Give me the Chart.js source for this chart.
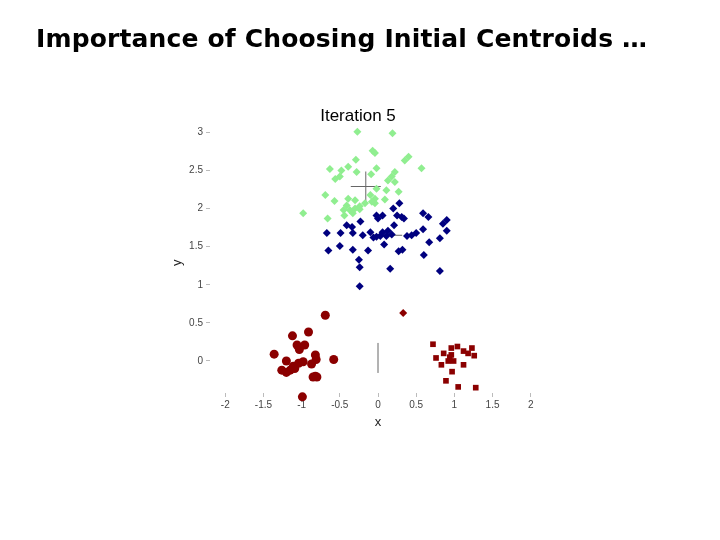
<!DOCTYPE html>
<html>
<head>
<meta charset="utf-8">
<script src="https://cdn.jsdelivr.net/npm/chart.js@4/dist/chart.umd.min.js"></script>
<style>
  body { margin: 0; background: #fff; }
  #wrap { position: relative; width: 720px; height: 540px; }
  #slideTitle {
    position: absolute; left: 36px; top: 24px;
    font-family: "DejaVu Sans", Verdana, sans-serif; font-weight: bold; font-size: 25px;
    letter-spacing: 0.15px;
    color: #000; white-space: nowrap;
  }
  canvas { position: absolute; left: 0; top: 0; }
</style>
</head>
<body>
<div id="wrap">
  <canvas id="chart" width="720" height="540"></canvas>
  <div id="slideTitle">Importance of Choosing Initial Centroids …</div>
</div>
<script>
// ------- DATA -------
const greenX = [-0.27, 0.19, -0.07, -0.04, 0.40, 0.35, 0.57, -0.29, -0.39, -0.48, -0.28, -0.56, -0.50, -0.02, -0.09, 0.22, 0.18, 0.13, 0.22, 0.11, -0.02, 0.27, -0.69, -0.57, -0.39, -0.30, -0.10, -0.04, 0.09, -0.04, -0.41, -0.37, -0.30, -0.24, -0.17, -0.44, -0.98, -0.66, -0.33, -0.45, -0.08, -0.24, -0.63];
const greenY = [3.01, 2.99, 2.76, 2.73, 2.68, 2.63, 2.53, 2.64, 2.55, 2.50, 2.48, 2.39, 2.42, 2.53, 2.45, 2.48, 2.42, 2.37, 2.35, 2.24, 2.26, 2.22, 2.18, 2.10, 2.13, 2.11, 2.18, 2.13, 2.12, 2.07, 2.04, 1.98, 2.00, 2.03, 2.07, 1.91, 1.94, 1.87, 1.94, 1.98, 2.09, 1.99, 2.52];

const blueX = [0.28, 0.20, 0.25, 0.34, -0.02, 0.06, 0.00, 0.59, 0.66, 0.90, 0.85, -0.23, -0.41, -0.34, 0.21, 0.59, 0.90, -0.67, -0.49, -0.33, -0.20, -0.10, -0.06, -0.02, 0.06, 0.13, 0.11, 0.18, 0.38, 0.44, 0.50, 0.67, 0.81, -0.65, -0.50, -0.33, -0.13, 0.08, 0.27, 0.32, 0.60, -0.25, -0.24, 0.16, 0.81, -0.24, 0.31, 0.03];
const blueY = [2.07, 2.00, 1.91, 1.87, 1.91, 1.91, 1.87, 1.94, 1.89, 1.85, 1.80, 1.83, 1.78, 1.76, 1.78, 1.73, 1.71, 1.68, 1.68, 1.68, 1.65, 1.69, 1.62, 1.63, 1.69, 1.71, 1.64, 1.66, 1.64, 1.65, 1.68, 1.56, 1.61, 1.45, 1.51, 1.46, 1.45, 1.53, 1.44, 1.46, 1.39, 1.33, 1.23, 1.21, 1.18, 0.98, 1.89, 1.64];

const redCircleX = [-0.69, -1.12, -0.91, -1.06, -1.03, -0.96, -1.36, -0.82, -0.81, -0.58, -1.20, -1.11, -1.04, -0.98, -1.26, -1.20, -1.15, -1.09, -0.87, -0.82, -0.80, -0.85, -0.99];
const redCircleY = [0.60, 0.33, 0.38, 0.21, 0.15, 0.21, 0.09, 0.08, 0.02, 0.02, 0.00, -0.07, -0.03, -0.01, -0.12, -0.15, -0.12, -0.10, -0.04, -0.20, -0.21, -0.21, -0.47];

const redDiamondX = [0.33];
const redDiamondY = [0.63];

const redSquareX = [0.72, 0.86, 0.96, 1.04, 1.12, 1.23, 1.26, 1.18, 0.76, 0.94, 0.99, 0.92, 0.83, 1.12, 0.97, 0.89, 1.05, 1.28, 0.96];
const redSquareY = [0.22, 0.10, 0.17, 0.19, 0.13, 0.17, 0.07, 0.10, 0.04, 0.05, 0.00, 0.00, -0.05, -0.05, -0.14, -0.26, -0.34, -0.35, 0.08];

// centroid markers
const centroidX = [-0.16, 0.12, 0.00];
const centroidY = [2.29, 1.65, 0.04];

const xTicks = [-2, -1.5, -1, -0.5, 0, 0.5, 1, 1.5, 2];
const xTickLabels = ["-2", "-1.5", "-1", "-0.5", "0", "0.5", "1", "1.5", "2"];
const yTicks = [0, 0.5, 1, 1.5, 2, 2.5, 3];
const yTickLabels = ["0", "0.5", "1", "1.5", "2", "2.5", "3"];

// ------- BUILD DATASETS -------
function pts(xs, ys) {
    return xs.map((x, i) => ({ x: x, y: ys[i] }));
}

function markerSet(xs, ys, color, style, r) {
    return {
        data: pts(xs, ys),
        pointStyle: style,
        pointRadius: r,
        pointBackgroundColor: color,
        pointBorderColor: color,
        pointBorderWidth: 0,
        clip: false
    };
}

const centroidSet = {
    data: pts(centroidX, centroidY),
    pointStyle: ["cross", "line", "line"],
    rotation: [0, 0, 90],
    pointRadius: 15,
    pointBorderColor: "#666",
    pointBorderWidth: 1,
    clip: false
};

const tickFont = { family: "Liberation Sans, Arial, sans-serif", size: 10 };

new Chart(document.getElementById("chart").getContext("2d"), {
    type: "scatter",
    data: {
        datasets: [
            markerSet(greenX, greenY, "#90ee90", "rectRot", 4),
            markerSet(blueX, blueY, "#00007f", "rectRot", 4),
            markerSet(redCircleX, redCircleY, "#8b0000", "circle", 4.5),
            markerSet(redDiamondX, redDiamondY, "#8b0000", "rectRot", 4),
            markerSet(redSquareX, redSquareY, "#8b0000", "rect", 4),
            centroidSet
        ]
    },
    options: {
        responsive: false,
        animation: false,
        layout: { padding: { left: 170, right: 174, top: 106, bottom: 110 } },
        plugins: {
            legend: { display: false },
            tooltip: { enabled: false },
            title: {
                display: true,
                text: "Iteration 5",
                color: "#000",
                font: { family: "Liberation Sans, Arial, sans-serif", size: 17, weight: "normal" },
                padding: { top: 0, bottom: 6 }
            }
        },
        scales: {
            x: {
                type: "linear",
                min: -2.2,
                max: 2.2,
                afterBuildTicks: s => { s.ticks = xTicks.map(v => ({ value: v })); },
                afterFit: s => { s.height = 37; },
                ticks: {
                    color: "#444",
                    font: tickFont,
                    padding: 2,
                    maxRotation: 0,
                    callback: (v) => xTickLabels[xTicks.indexOf(v)]
                },
                grid: { drawOnChartArea: false, drawTicks: true, tickLength: 4, color: "#bbb" },
                border: { display: false },
                title: {
                    display: true,
                    text: "x",
                    color: "#222",
                    font: { family: "Liberation Sans, Arial, sans-serif", size: 13 },
                    padding: 0
                }
            },
            y: {
                type: "linear",
                min: -0.42,
                max: 3,
                afterBuildTicks: s => { s.ticks = yTicks.map(v => ({ value: v })); },
                afterFit: s => { s.width = 40; },
                ticks: {
                    color: "#444",
                    font: tickFont,
                    padding: 3,
                    callback: (v) => yTickLabels[yTicks.indexOf(v)]
                },
                grid: { drawOnChartArea: false, drawTicks: true, tickLength: 4, color: "#bbb" },
                border: { display: false },
                title: {
                    display: true,
                    text: "y",
                    color: "#222",
                    font: { family: "Liberation Sans, Arial, sans-serif", size: 13 },
                    padding: 0
                }
            }
        }
    }
});
</script>
</body>
</html>
